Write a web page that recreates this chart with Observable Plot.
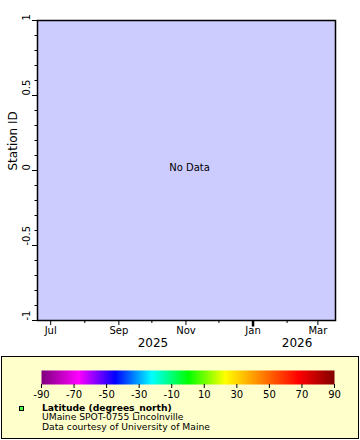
<!DOCTYPE html>
<html><head><meta charset="utf-8">
<script src="https://cdn.jsdelivr.net/npm/d3@7"></script>
<script src="https://cdn.jsdelivr.net/npm/@observablehq/plot@0.6"></script>
<style>
html,body{margin:0;padding:0;background:#fff;}
body{width:360px;height:440px;position:relative;font-family:"DejaVu Sans",sans-serif;overflow:hidden;}
#chart{position:absolute;left:0;top:0;}
#legend{position:absolute;left:1px;top:356px;width:356px;height:81px;border:1px solid #000;background:#ffffcc;}
#bar{position:absolute;left:0;top:0;}
#swatch{position:absolute;left:17px;top:49px;width:3px;height:3px;border:1px solid #000;background:#44ff44;}
#lines{position:absolute;left:40px;top:45.5px;font-size:9.2px;line-height:9.6px;color:#000;white-space:nowrap;}
#lines div{height:9.6px;}
#lines b{font-weight:bold;}
</style></head><body>
<div id="chart"></div>
<div id="legend"><div id="bar"></div><div id="swatch"></div><div id="lines"></div></div>
<script>
// ---- data ----
const stationData = []; // "No Data"
const xDomain = ["2025-06-19", "2026-03-17"];
const monthTicks = ["2025-07-01", "2025-09-01", "2025-11-01", "2026-01-01", "2026-03-01"];
const monthLabels = ["Jul", "Sep", "Nov", "Jan", "Mar"];
const minorMonthTicks = ["2025-08-01", "2025-10-01", "2025-12-01", "2026-02-01"];
const yearBoundary = ["2026-01-01"];
const yearLabels = ["2025", "2026"];
const yearLabelDates = ["2025-10-02", "2026-02-10"];
const yMajor = [-1, -0.5, 0, 0.5, 1];
const yMinor = [-0.9, -0.8, -0.7, -0.6, -0.4, -0.3, -0.2, -0.1, 0.1, 0.2, 0.3, 0.4, 0.6, 0.7, 0.8, 0.9];
const yTitle = "Station ID";
const legendTicks = [-90, -70, -50, -30, -10, 10, 30, 50, 70, 90];
const paletteStops = [-90, -67.5, -45, -22.5, 0, 22.5, 45, 67.5, 90];
const paletteColors = ["#800080", "#ff00ff", "#0000ff", "#00ffff", "#00ff00", "#ffff00", "#ff8000", "#ff0000", "#800000"];
const legendLines = ["Latitude (degrees_north)", "UMaine SPOT-0755 Lincolnville", "Data courtesy of University of Maine"];

const font = "DejaVu Sans";
const months = monthTicks.map((d, i) => ({date: new Date(d), label: monthLabels[i]}));
const years = yearLabels.map((t, i) => ({date: new Date(yearLabelDates[i]), label: t}));

const chart = Plot.plot({
  width: 360, height: 356,
  marginLeft: 37, marginRight: 25, marginTop: 20, marginBottom: 36,
  style: {fontFamily: font, fontSize: "10px", background: "white", color: "black", overflow: "visible"},
  x: {type: "utc", domain: xDomain.map(d => new Date(d))},
  y: {domain: [-1, 1]},
  marks: [
    Plot.frame({fill: "#ccccff"}),
    Plot.dot(stationData, {x: "time", y: "station", fill: "latitude"}),
    Plot.axisY({ticks: yMinor, tickSize: 2.5, tickFormat: () => "", stroke: "black", label: null}),
    Plot.axisY({ticks: yMajor, tickSize: 5, tickFormat: () => "", stroke: "black", label: null}),
    Plot.text(yMajor, {y: d => d, text: d => String(d), frameAnchor: "left", dx: -11, rotate: -90, fontSize: 10}),
    Plot.text([yTitle], {frameAnchor: "left", dx: -24, rotate: -90, fontSize: 12}),
    Plot.axisX({ticks: minorMonthTicks.map(d => new Date(d)), tickSize: 3, tickFormat: () => "", stroke: "black", label: null}),
    Plot.axisX({ticks: monthTicks.map(d => new Date(d)), tickSize: 5, tickFormat: () => "", stroke: "black", label: null}),
    Plot.axisX({ticks: yearBoundary.map(d => new Date(d)), tickSize: 6.5, strokeWidth: 2.5, tickFormat: () => "", stroke: "black", label: null}),
    Plot.text(months, {x: "date", text: "label", frameAnchor: "bottom", dy: 13, fontSize: 10}),
    Plot.text(years, {x: "date", text: "label", frameAnchor: "bottom", dy: 26, fontSize: 12}),
    Plot.text(["No Data"], {frameAnchor: "middle", dx: 3, dy: -3, fontSize: 10}),
    Plot.frame({stroke: "black", strokeWidth: 1.5})
  ]
});
document.getElementById("chart").appendChild(chart);

const bar = Plot.plot({
  width: 356, height: 46,
  marginLeft: 39, marginRight: 24, marginTop: 13, marginBottom: 19,
  style: {fontFamily: font, fontSize: "10px", background: "transparent", color: "black", overflow: "visible"},
  x: {domain: [-90, 90]},
  y: {domain: [0, 1], axis: null},
  color: {type: "linear", domain: paletteStops, range: paletteColors},
  marks: [
    Plot.raster({x1: -90, x2: 90, y1: 0, y2: 1, width: 293, height: 1, fill: (x, y) => x, imageRendering: "pixelated"}),
    Plot.axisX({ticks: legendTicks, tickSize: 4, tickPadding: 2, tickFormat: d => String(d), stroke: "black", fontSize: 10, label: null})
  ]
});
document.getElementById("bar").appendChild(bar);

const lines = document.getElementById("lines");
legendLines.forEach((t, i) => {
  const div = document.createElement("div");
  if (i === 0) { const b = document.createElement("b"); b.textContent = t; div.appendChild(b); }
  else div.textContent = t;
  lines.appendChild(div);
});
</script>
</body></html>
